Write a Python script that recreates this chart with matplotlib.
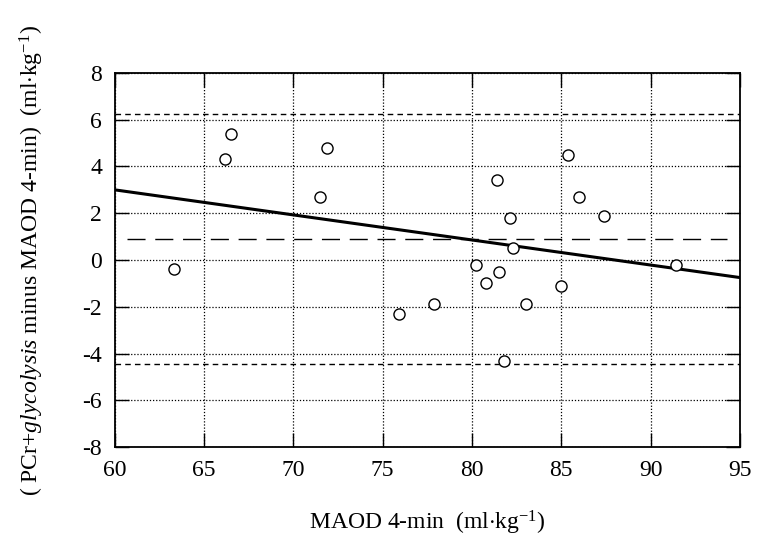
import numpy as np
import matplotlib
matplotlib.use('Agg')
import matplotlib.pyplot as plt

plt.rcParams['font.family'] = 'Liberation Serif'
plt.rcParams['mathtext.fontset'] = 'custom'
plt.rcParams['mathtext.rm'] = 'Liberation Serif'
plt.rcParams['mathtext.it'] = 'Liberation Serif:italic'
plt.rcParams['axes.unicode_minus'] = False

# MAOD 4-min values and the differences
maod = [63.3, 66.2, 66.5, 71.5, 71.9, 75.9, 77.9, 80.2, 80.8, 81.4,
        81.5, 81.8, 82.1, 82.3, 83.0, 85.0, 85.4, 86.0, 87.4, 91.4]
diff = [-0.4, 4.3, 5.4, 2.7, 4.8, -2.3, -1.9, -0.2, -1.0, 3.4,
        -0.5, -4.3, 1.8, 0.5, -1.9, -1.1, 4.5, 2.7, 1.9, -0.2]

mean_diff = 0.9
upper_loa = 6.25
lower_loa = -4.45

# regression line end points
reg_x = [60, 95]
reg_y = [3.0, -0.75]

fig = plt.figure(figsize=(7.7, 5.48), dpi=100)
ax = fig.add_axes([0.149, 0.184, 0.812, 0.683])

ax.set_xlim(60, 95)
ax.set_ylim(-8, 8)
ax.set_xticks(np.arange(60, 96, 5))
ax.set_yticks(np.arange(-8, 9, 2))

ax.grid(True, color='black', linestyle=(0, (1, 1.5)), linewidth=0.9)

ax.axhline(upper_loa, color='black', linestyle=(0, (4, 3)), linewidth=1.0)
ax.axhline(lower_loa, color='black', linestyle=(0, (4, 3)), linewidth=1.0)
ax.plot([60.7, 94.3], [mean_diff, mean_diff], color='black',
        linestyle=(0, (13, 7)), linewidth=1.0)

ax.plot(reg_x, reg_y, color='black', linewidth=2.2)

ax.plot(maod, diff, 'o', markersize=8, markerfacecolor='white',
        markeredgecolor='black', markeredgewidth=1.0, linestyle='none')

ax.tick_params(direction='in', length=10, width=1, labelsize=17,
               top=True, right=True, pad=9, colors='black')
for sp in ax.spines.values():
    sp.set_linewidth(1.3)

ax.set_xlabel(r'MAOD 4-min  (ml$\cdot$kg$^{\mathregular{-1}}$)', fontsize=17, labelpad=20)
ax.set_ylabel(r'( PCr+$\mathit{glycolysis}$ minus MAOD 4-min)  (ml$\cdot$kg$^{\mathregular{-1}}$)',
              fontsize=17, labelpad=26)

fig.savefig('out.png', dpi=100)
